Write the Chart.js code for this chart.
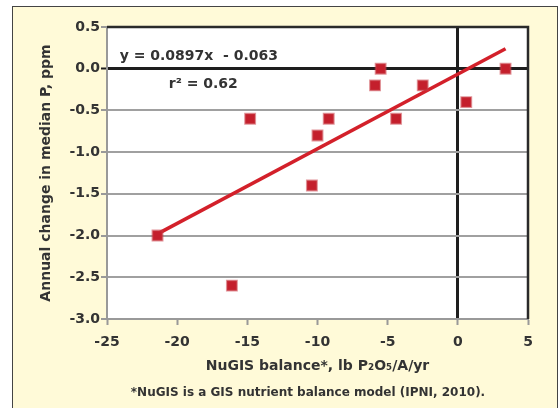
<!DOCTYPE html>
<html>
<head>
<meta charset="utf-8">
<script src="https://cdn.jsdelivr.net/npm/chart.js@4"></script>
<style>
  html, body { margin: 0; padding: 0; background: #fff; }
  body { width: 559px; height: 408px; position: relative; overflow: hidden; font-family: "DejaVu Sans", sans-serif; }
  .frame { position: absolute; left: 12px; top: 6px; width: 544px; height: 410px; border: 1.5px solid #444; background: #fffad8; }
  .wrap { position: absolute; left: 0; top: 0; width: 559px; height: 408px; }
  .note { position: absolute; left: 0; width: 616px; top: 385px; text-align: center; font: 700 12px "DejaVu Sans", sans-serif; color: #333; }
</style>
</head>
<body>
<div class="frame"></div>
<div class="wrap"><canvas id="c" width="559" height="408"></canvas></div>
<div class="note">*NuGIS is a GIS nutrient balance model (IPNI, 2010).</div>
<script>
// ── DATA ──────────────────────────────────────────────────────────────────────
const balance = [-21.4, -16.1, -14.8, -10.4, -10.0, -9.2, -5.9, -5.5, -4.4, -2.5, 0.6, 3.4];
const change  = [-2.0, -2.6, -0.6, -1.4, -0.8, -0.6, -0.2, 0.0, -0.6, -0.2, -0.4, 0.0];
const trendX  = [-21.4, 3.4];
const trendY  = [-1.98, 0.24];
const xTicks  = [-25, -20, -15, -10, -5, 0, 5];
const yTicks  = [0.5, 0.0, -0.5, -1.0, -1.5, -2.0, -2.5, -3.0];

const TXT = '#333';
const FONT = '"DejaVu Sans", sans-serif';

// ── PLUGINS ───────────────────────────────────────────────────────────────────
const plotBg = {
  id: 'plotBg',
  beforeDraw(chart) {
    const { ctx, chartArea: a } = chart;
    ctx.save();
    ctx.fillStyle = '#fff';
    ctx.fillRect(a.left, a.top, a.right - a.left, a.bottom - a.top);
    ctx.restore();
  },
  afterDatasetsDraw(chart) {
    const { ctx, chartArea: a, scales } = chart;
    ctx.save();
    // dark top and right border
    ctx.strokeStyle = '#2a2a2a';
    ctx.lineWidth = 2.5;
    ctx.beginPath();
    ctx.moveTo(a.left, a.top);
    ctx.lineTo(a.right, a.top);
    ctx.lineTo(a.right, a.bottom);
    ctx.stroke();
    // regression label
    ctx.fillStyle = TXT;
    ctx.font = '700 14px ' + FONT;
    ctx.textBaseline = 'middle';
    ctx.textAlign = 'left';
    ctx.fillText('y = 0.0897x  - 0.063', scales.x.getPixelForValue(-24.1), scales.y.getPixelForValue(0.15));
    ctx.fillText('r² = 0.62', scales.x.getPixelForValue(-20.6), scales.y.getPixelForValue(-0.19));
    ctx.restore();
  }
};

// ── CHART ─────────────────────────────────────────────────────────────────────
new Chart(document.getElementById('c'), {
  type: 'scatter',
  data: {
    datasets: [
      {
        label: 'trend',
        type: 'line',
        data: trendX.map((x, i) => ({ x, y: trendY[i] })),
        borderColor: '#d3202a',
        borderWidth: 3.5,
        pointRadius: 0,
        order: 2
      },
      {
        label: 'points',
        data: balance.map((x, i) => ({ x, y: change[i] })),
        pointStyle: 'rect',
        pointRadius: 7,
        backgroundColor: '#c41f2c',
        borderColor: 'rgba(200,60,70,0.55)',
        borderWidth: 2,
        order: 1
      }
    ]
  },
  options: {
    responsive: false,
    animation: false,
    layout: { padding: { left: 34, top: 27, right: 31, bottom: 33 } },
    plugins: { legend: { display: false }, tooltip: { enabled: false } },
    scales: {
      x: {
        type: 'linear',
        min: -25, max: 5,
        afterBuildTicks: s => { s.ticks = xTicks.map(v => ({ value: v })); },
        afterFit: s => { s.height = 56; },
        grid: {
          color: c => c.tick && c.tick.value === 0 ? '#1e1e1e' : 'rgba(0,0,0,0)',
          lineWidth: c => c.tick && c.tick.value === 0 ? 3 : 1,
          tickColor: '#999',
          tickLength: 6,
          tickWidth: 2
        },
        border: { color: '#999', width: 2 },
        ticks: { color: TXT, font: { family: FONT, size: 14, weight: '700' }, padding: 9 },
        title: {
          display: true,
          text: 'NuGIS balance*, lb P₂O₅/A/yr',
          color: TXT,
          font: { family: FONT, size: 14, weight: '700' },
          padding: { top: 4, bottom: 0 }
        }
      },
      y: {
        type: 'linear',
        min: -3, max: 0.5,
        afterBuildTicks: s => { s.ticks = yTicks.map(v => ({ value: v })); },
        afterFit: s => { s.width = 73; },
        grid: {
          color: c => c.tick && c.tick.value === 0 ? '#1e1e1e' : '#a0a0a0',
          lineWidth: c => c.tick && c.tick.value === 0 ? 3 : 2,
          tickColor: c => c.tick && c.tick.value === 0 ? '#1e1e1e' : '#999',
          tickLength: 6,
          tickWidth: 2
        },
        border: { color: '#999', width: 2 },
        ticks: {
          color: TXT,
          font: { family: FONT, size: 14, weight: '700' },
          padding: 1,
          callback: v => v.toFixed(1)
        },
        title: {
          display: true,
          text: 'Annual change in median P, ppm',
          color: TXT,
          font: { family: FONT, size: 14, weight: '700' },
          padding: { top: 4, bottom: 4 }
        }
      }
    }
  },
  plugins: [plotBg]
});
</script>
</body>
</html>
